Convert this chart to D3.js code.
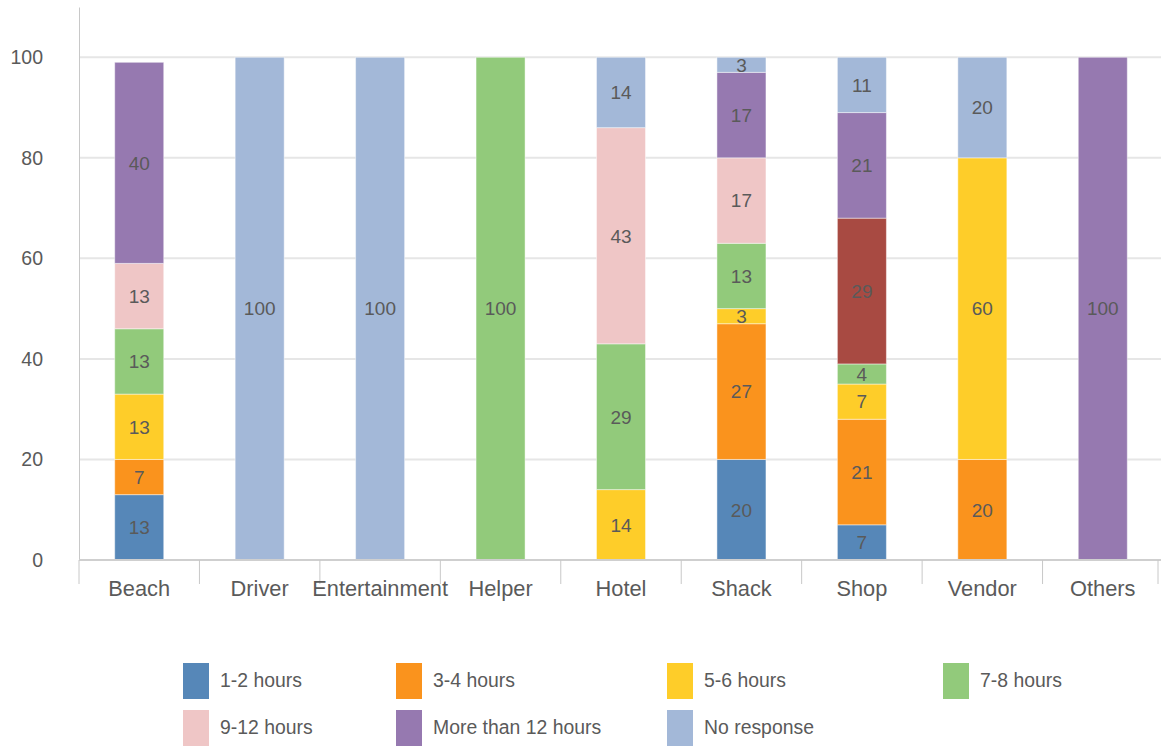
<!DOCTYPE html>
<html>
<head>
<meta charset="utf-8">
<script src="https://cdn.jsdelivr.net/npm/d3@7"></script>
<style>
  html, body { margin: 0; padding: 0; background: #fff; }
  svg text { font-family: "Liberation Sans", Arial, sans-serif; fill: #5a5a5a; }
</style>
</head>
<body>
<svg id="chart" width="1161" height="747"></svg>
<script>
// Working hours by occupation (percent of respondents)
const categories = ["Beach", "Driver", "Entertainment", "Helper", "Hotel", "Shack", "Shop", "Vendor", "Others"];
const seriesNames = ["1-2 hours", "3-4 hours", "5-6 hours", "7-8 hours", "9-12 hours", "More than 12 hours", "No response"];

const hours1to2   = [13, 0, 0, 0, 0, 20, 7, 0, 0];
const hours3to4   = [7, 0, 0, 0, 0, 27, 21, 20, 0];
const hours5to6   = [13, 0, 0, 0, 14, 3, 7, 60, 0];
const hours7to8   = [13, 0, 0, 100, 29, 13, 4, 0, 0];
const hours9to12  = [13, 0, 0, 0, 43, 17, 29, 0, 0];
const hoursOver12 = [40, 0, 0, 0, 0, 17, 21, 0, 100];
const noResponse  = [0, 100, 100, 0, 14, 3, 11, 20, 0];

const yTicks = [0, 20, 40, 60, 80, 100];

const seriesValues = [hours1to2, hours3to4, hours5to6, hours7to8, hours9to12, hoursOver12, noResponse];
const colors = ["#5687b8", "#fa931d", "#fecd29", "#92ca7b", "#efc6c6", "#9679b0", "#a3b8d8"];
// Shop's 9-12 hours segment is drawn in a darker red
const shopAccent = "#a84a42";

const rows = categories.map((c, i) => {
  const r = { category: c };
  seriesNames.forEach((s, k) => { r[s] = seriesValues[k][i]; });
  return r;
});

const svg = d3.select("#chart");
const plotLeft = 79, plotRight = 1163, plotTop = 7, plotBottom = 560;

const x = d3.scaleBand().domain(categories).range([plotLeft, plotRight]).paddingInner(0).paddingOuter(0);
const y = d3.scaleLinear().domain([0, 110]).range([plotBottom, plotTop]);
const color = d3.scaleOrdinal().domain(seriesNames).range(colors);

// gridlines
svg.append("g")
  .selectAll("line")
  .data(yTicks.filter(t => t > 0))
  .join("line")
  .attr("x1", plotLeft).attr("x2", 1161)
  .attr("y1", d => y(d)).attr("y2", d => y(d))
  .attr("stroke", "#e6e6e6").attr("stroke-width", 2);

// y axis
const yAxis = svg.append("g")
  .attr("transform", `translate(${plotLeft},0)`)
  .call(d3.axisLeft(y).tickValues(yTicks).tickSize(0).tickPadding(36));
yAxis.select(".domain").attr("stroke", "#c8c8c8").attr("stroke-width", 1);
yAxis.selectAll("text").attr("font-size", 19.5).attr("font-family", null).style("fill", "#5a5a5a");

// stacked bars
const stack = d3.stack().keys(seriesNames);
const layers = stack(rows);
const barW = x.bandwidth() * 0.407;

const layerG = svg.append("g")
  .selectAll("g")
  .data(layers)
  .join("g");

layerG.selectAll("rect")
  .data(d => d.map(p => ({ key: d.key, p })).filter(e => e.p[1] - e.p[0] > 0))
  .join("rect")
  .attr("x", e => x(e.p.data.category) + (x.bandwidth() - barW) / 2)
  .attr("width", barW)
  .attr("y", e => y(e.p[1]))
  .attr("height", e => y(e.p[0]) - y(e.p[1]))
  .attr("fill", e => (e.p.data.category === "Shop" && e.key === "9-12 hours") ? shopAccent : color(e.key))
  .attr("stroke", "rgba(255,255,255,0.45)")
  .attr("stroke-width", 1);

layerG.selectAll("text")
  .data(d => d.map(p => ({ key: d.key, p })).filter(e => e.p[1] - e.p[0] > 0))
  .join("text")
  .attr("x", e => x(e.p.data.category) + x.bandwidth() / 2)
  .attr("y", e => (y(e.p[0]) + y(e.p[1])) / 2)
  .attr("dy", "0.36em")
  .attr("text-anchor", "middle")
  .attr("font-size", 19)
  .style("fill", "#5a5a5a")
  .text(e => e.p[1] - e.p[0]);

// x axis
const xAxis = svg.append("g").attr("transform", `translate(0,${plotBottom})`);
xAxis.append("line")
  .attr("x1", plotLeft).attr("x2", 1161)
  .attr("stroke", "#cfcfcf").attr("stroke-width", 2);
const bounds = categories.map(c => x(c)).concat([Math.min(plotRight, 1158)]);
xAxis.selectAll("line.tick")
  .data(bounds)
  .join("line")
  .attr("class", "tick")
  .attr("x1", d => d).attr("x2", d => d)
  .attr("y1", 0).attr("y2", 24)
  .attr("stroke", "#c8c8c8").attr("stroke-width", 1);
xAxis.selectAll("text")
  .data(categories)
  .join("text")
  .attr("x", c => x(c) + x.bandwidth() / 2)
  .attr("y", 36)
  .attr("text-anchor", "middle")
  .attr("font-size", 21.8)
  .style("fill", "#5a5a5a")
  .text(c => c);

// legend
const legendPos = [
  [183, 663], [396, 663], [667, 663], [943, 663],
  [183, 710], [396, 710], [667, 710]
];
const legend = svg.append("g")
  .selectAll("g")
  .data(seriesNames)
  .join("g")
  .attr("transform", (d, i) => `translate(${legendPos[i][0]},${legendPos[i][1]})`);
legend.append("rect")
  .attr("width", 26).attr("height", 36)
  .attr("fill", d => color(d));
legend.append("text")
  .attr("x", 37).attr("y", 17).attr("dy", "0.35em")
  .attr("font-size", 19.4)
  .style("fill", "#5a5a5a")
  .text(d => d);
</script>
</body>
</html>
